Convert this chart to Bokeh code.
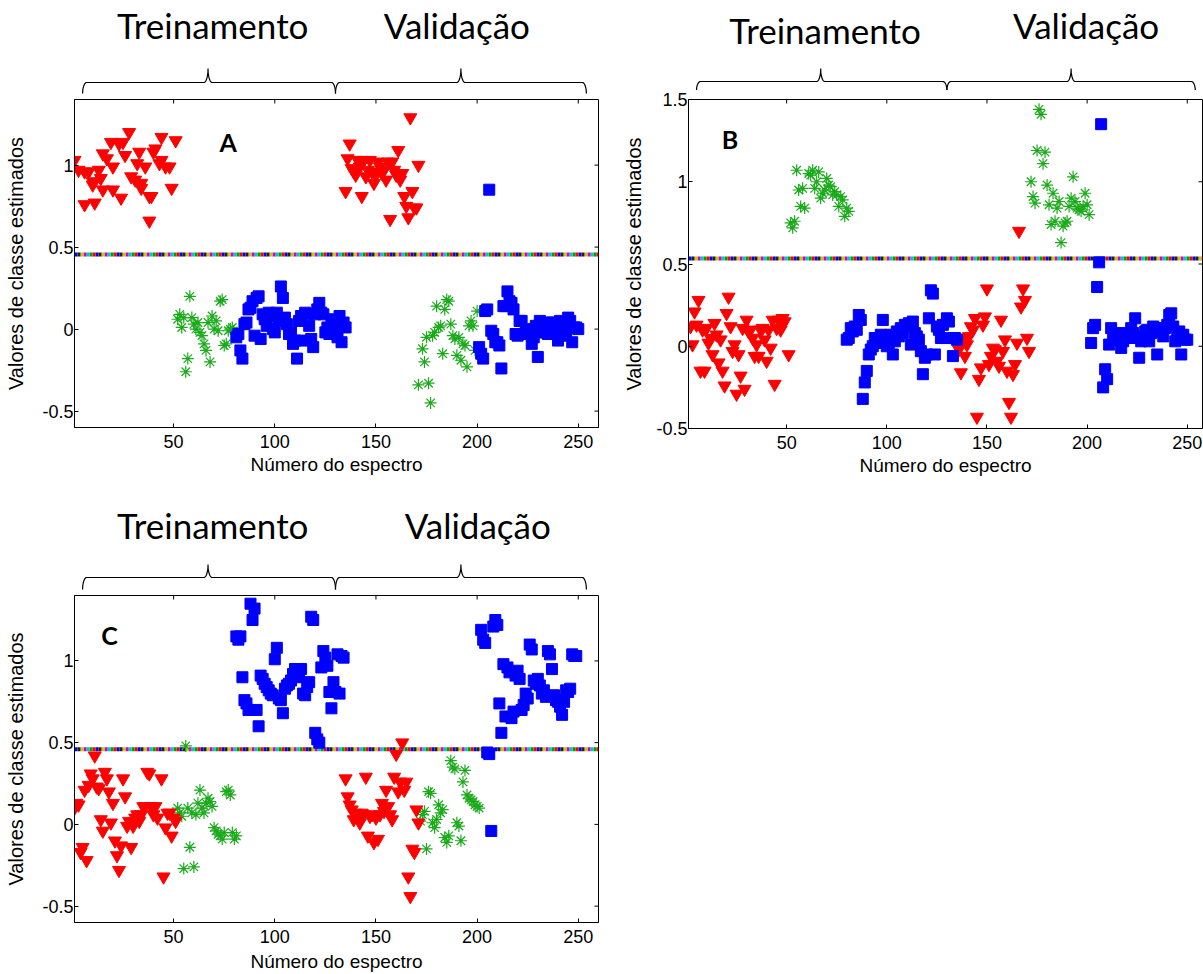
import numpy as np
from bokeh.plotting import figure
from bokeh.models import Range1d, FixedTicker, Span, Label
from bokeh.layouts import column, row
from bokeh.embed import file_html
from bokeh.resources import INLINE
from bokeh.core.properties import value

# ---------------- data ----------------
x_ticks = [50, 100, 150, 200, 250]
y_ticks_ac = [-0.5, 0, 0.5, 1]
y_ticks_b = [-0.5, 0, 0.5, 1, 1.5]
y_tick_labels = {-0.5: "-0.5", 0: "0", 0.5: "0.5", 1: "1", 1.5: "1.5"}
thresholds = [0.455, 0.533, 0.459]          # A, B, C
panel_letters = ["A", "B", "C"]
letter_x = [77, 21.7, 18.3]
letter_y = [1.14, 1.26, 1.16]
section_names = ["Treinamento", "Validação"]
brace_bounds = [5, 130, 254]
brace_peaks = [67, 192]

# Panel A
A_red_x = [1,3,6,6,8,10,10,11,13,14,15,15,17,19,20,20,23,24,25,26,28,29,31,32,33,34,34,36,38,38,39,40,41,43,44,44,46,48,49,51,
           135,136,137,138,139,140,141,142,143,144,145,146,147,148,149,150,151,152,153,154,155,156,157,158,159,160,161,162,163,164,165,166,167,168,169,170,171]
A_red_y = [1.03,0.97,0.96,0.76,0.96,0.88,0.90,0.77,0.97,0.92,0.85,1.07,1.04,1.14,0.85,0.99,1.13,0.80,1.14,1.06,1.20,0.93,0.91,1.01,1.08,0.86,0.89,0.99,0.81,0.66,0.81,1.08,1.10,1.01,1.17,1.03,0.99,0.99,0.86,1.15,
           0.84,1.04,1.13,0.98,0.96,0.94,1.03,0.99,0.81,1.03,0.93,0.97,1.03,0.96,0.89,0.94,1.02,0.99,0.95,0.97,0.91,1.02,0.67,1.02,0.97,0.94,1.09,0.91,0.95,0.81,0.75,0.68,1.29,0.84,0.74,0.74,1.00]
A_green_x = [52,53,54,55,56,57,58,59,60,61,62,63,64,65,66,67,68,69,70,71,72,73,74,75,76,77,78,79,
             171,173,174,175,176,177,178,179,180,181,182,183,184,185,186,187,188,189,190,191,192,193,194,195,196,197,198,199,200]
A_green_y = [0.06,0.09,0.01,0.07,-0.26,-0.18,0.20,0.07,0.03,0.0,0.04,-0.02,-0.04,-0.09,-0.13,0.04,-0.20,0.08,0.0,0.05,-0.01,0.17,0.18,-0.10,-0.09,-0.01,0.0,0.01,
             -0.34,-0.12,-0.20,-0.05,-0.33,-0.45,-0.04,-0.02,0.14,0.01,0.02,-0.15,0.12,0.18,0.17,0.03,-0.04,-0.06,-0.16,-0.05,-0.19,-0.09,-0.10,-0.23,0.02,0.05,0.02,-0.13,0.11]
A_blue_x = [81,82,83,84,85,86,87,88,89,90,91,92,93,94,95,96,97,98,99,100,101,102,103,104,105,106,107,108,109,110,
            111,112,113,114,115,116,117,118,119,120,121,122,123,124,125,126,127,128,129,130,131,132,133,134,135,
            201,202,203,204,205,206,207,208,209,210,211,212,213,214,215,216,217,218,219,220,221,222,223,224,225,
            226,227,228,229,230,231,232,233,234,235,236,237,238,239,240,241,242,243,244,245,246,247,248,249,250]
A_blue_y = [-0.05,-0.03,-0.13,-0.18,0.03,0.04,0.12,0.13,0.17,-0.04,0.19,0.20,-0.06,0.09,0.06,0.02,0.10,0.08,0.0,-0.02,
            0.10,0.05,0.26,0.19,0.07,0.03,-0.03,-0.02,-0.09,-0.07,-0.18,0.05,0.08,-0.07,0.10,0.09,0.02,-0.06,-0.11,0.09,
            0.12,0.16,0.10,0.09,-0.02,0.01,-0.03,0.04,0.06,0.0,-0.05,0.08,-0.08,0.04,0.01,
            -0.11,-0.15,-0.18,0.11,0.12,0.85,-0.01,-0.03,-0.08,-0.08,-0.10,-0.24,0.14,0.14,0.23,0.17,0.16,0.12,-0.03,-0.04,
            0.05,0.05,-0.03,-0.02,-0.02,0.0,-0.09,-0.05,0.02,-0.17,0.05,-0.02,0.0,-0.02,-0.03,0.04,0.04,-0.03,0.02,-0.07,
            0.05,0.02,0.0,-0.04,0.07,0.05,-0.08,0.01,0.01,0.0]

# Panel B
B_red_x = [2,3,4,5,6,7,8,9,10,11,12,13,14,15,16,17,18,19,20,21,22,23,24,25,26,27,28,29,30,31,32,33,34,35,36,37,38,39,40,41,42,43,44,45,46,47,48,49,51,
           136,137,138,139,140,141,142,143,144,145,146,147,148,149,150,151,152,153,154,155,156,157,158,159,160,161,162,163,164,165,166,167,168,169,170,171]
B_red_y = [0.12,0.01,0.21,0.13,0.28,-0.15,0.10,-0.15,0.11,0.02,0.05,-0.05,0.14,0.07,-0.10,0.04,-0.15,-0.24,0.20,0.30,0.12,-0.03,0.01,-0.29,-0.05,-0.18,0.11,-0.26,0.16,0.09,
           0.10,0.05,-0.06,0.01,-0.06,0.10,0.11,0.04,-0.09,0.10,-0.01,0.16,-0.23,0.11,0.16,0.10,0.17,0.15,-0.05,
           -0.02,-0.16,0.05,-0.06,0.01,0.06,0.12,0.10,0.17,-0.43,-0.20,-0.13,0.13,0.18,0.35,-0.11,-0.06,-0.01,-0.02,-0.09,
           -0.12,0.16,-0.03,0.04,-0.15,-0.34,-0.43,-0.17,-0.11,0.02,0.70,0.24,0.35,0.28,0.05,-0.03]
B_green_x = [52,53,54,55,56,57,58,59,61,62,63,64,65,66,67,68,69,70,71,72,73,74,75,76,77,78,79,80,81,
             172,173,174,175,176,177,178,179,180,181,182,183,184,185,186,187,188,189,190,191,192,193,194,195,196,197,198,199,200,201]
B_green_y = [0.75,0.72,0.76,1.07,0.95,0.85,0.96,0.84,1.05,1.04,1.07,0.96,1.00,1.06,0.90,0.93,0.95,1.02,0.98,0.97,0.92,0.94,0.92,0.85,0.91,0.89,0.79,0.84,0.82,
             1.00,0.91,0.87,1.19,1.44,1.41,1.11,1.18,0.98,0.86,0.74,0.93,0.76,0.84,0.88,0.63,0.73,0.75,0.76,0.85,0.90,1.03,0.88,0.84,0.83,0.82,0.85,0.93,0.86,0.80]
B_blue_x = [80,81,82,83,84,85,86,87,88,89,90,91,92,93,94,95,96,97,98,99,100,101,102,103,104,105,106,107,108,109,110,
            111,112,113,114,115,116,117,118,119,120,121,122,123,124,125,126,127,128,129,130,131,132,133,134,135,
            202,203,204,205,206,207,208,209,210,211,212,213,214,215,216,217,218,219,220,221,222,223,224,225,226,
            227,228,229,230,231,232,233,234,235,236,237,238,239,240,241,242,243,244,245,246,247,248,249,250]
B_blue_y = [0.04,0.05,0.11,0.09,0.12,0.10,0.19,0.16,-0.32,-0.22,-0.15,-0.05,-0.02,0.0,0.05,0.02,0.04,0.07,0.16,0.06,
            0.0,0.02,0.07,-0.05,0.03,0.09,0.06,0.11,0.08,0.13,0.12,0.14,0.01,0.15,0.08,0.06,0.04,-0.03,-0.17,-0.07,
            -0.05,0.17,0.34,0.32,-0.05,0.12,0.10,0.05,0.13,0.05,0.17,0.15,0.05,-0.06,0.05,0.04,
            0.02,0.11,0.13,0.36,0.51,1.35,-0.25,-0.14,-0.20,0.01,0.11,0.06,0.08,0.04,0.06,-0.01,0.03,0.08,0.05,0.07,
            0.11,0.08,0.17,0.05,-0.07,0.03,0.06,0.09,0.10,0.03,0.08,0.12,0.11,-0.05,0.09,0.10,0.06,0.11,0.13,0.19,
            0.20,0.12,0.03,0.08,0.09,-0.05,0.07,0.04,0.04]

# Panel C
C_red_x = [1,2,3,4,5,6,7,8,9,10,11,12,13,14,15,16,17,18,19,20,21,22,23,24,25,26,27,28,29,30,31,32,33,34,35,36,37,38,39,40,41,42,44,45,46,47,48,49,50,51,
           135,136,137,138,139,140,141,142,143,144,145,146,147,148,149,150,151,152,153,154,155,156,157,158,159,160,161,162,163,164,165,166,167,168,169,170,171]
C_red_y = [0.10,0.13,0.12,-0.17,-0.14,0.21,-0.22,0.24,0.31,0.28,0.42,0.23,0.22,0.03,-0.04,0.32,0.28,0.20,0.01,0.13,
           -0.10,-0.19,-0.28,-0.13,0.28,0.17,-0.01,0.02,-0.14,-0.01,0.04,0.06,0.02,0.06,0.11,0.11,0.32,0.31,0.11,0.06,
           0.11,0.04,0.28,-0.32,-0.02,0.07,0.07,-0.07,0.04,0.02,
           0.28,0.17,0.12,0.09,0.03,0.07,0.05,0.01,0.07,0.06,0.29,-0.07,0.05,0.06,-0.11,0.04,-0.09,0.06,0.13,0.08,
           0.21,0.11,0.06,0.03,0.29,0.43,0.20,0.26,0.50,0.21,0.26,-0.32,-0.44,-0.15,-0.17,0.09,0.01]
C_green_x = [52,53,54,55,56,57,58,59,60,61,62,63,64,65,66,67,68,69,70,71,72,73,74,75,76,77,78,79,80,81,
             172,173,174,175,176,177,178,179,180,181,182,183,184,185,186,187,188,189,190,191,192,193,194,195,196,197,198,199,200,201]
C_green_y = [0.10,0.07,0.05,-0.27,0.48,0.10,-0.14,0.07,-0.26,0.06,0.13,0.21,0.10,0.07,0.13,0.16,0.14,0.11,-0.02,-0.04,
             -0.06,-0.07,-0.09,-0.05,0.20,0.21,0.18,-0.05,-0.09,-0.07,
             0.02,0.06,0.08,-0.15,0.20,0.19,0.01,-0.02,0.03,0.12,0.07,0.09,-0.08,-0.11,-0.07,0.39,0.35,0.34,0.01,-0.01,
             -0.10,0.26,0.33,0.18,0.16,0.15,0.14,0.12,0.11,0.10]
C_blue_x = [81,82,83,84,85,86,87,88,89,90,91,92,93,94,95,96,97,98,99,100,101,102,103,104,105,106,107,108,109,110,
            111,112,113,114,115,116,117,118,119,120,121,122,123,124,125,126,127,128,129,130,131,132,133,134,
            202,203,204,205,206,207,208,209,210,211,212,213,214,215,216,217,218,219,220,221,222,223,224,225,
            226,227,228,229,230,231,232,233,234,235,236,237,238,239,240,241,242,243,244,245,246,247,248,249]
C_blue_y = [1.15,1.13,1.15,0.90,0.76,0.74,0.70,1.35,1.25,1.32,0.70,0.60,0.91,0.89,0.86,0.84,0.82,0.80,0.79,1.01,
            1.08,0.77,0.76,0.68,0.83,0.85,0.86,0.88,0.92,0.95,0.95,0.90,0.95,0.80,0.79,0.84,0.87,1.27,1.25,0.56,
            0.52,0.50,0.96,1.06,1.02,0.97,0.81,0.71,0.87,0.81,1.04,0.80,1.03,1.02,
            1.19,1.13,1.11,0.44,0.43,-0.04,1.21,1.25,1.22,0.74,0.56,0.98,0.66,0.96,0.93,0.65,0.69,0.91,0.94,0.89,
            0.70,0.73,0.80,0.77,1.10,1.07,0.88,0.86,0.89,0.85,0.80,0.82,0.78,1.06,1.04,0.95,0.79,0.76,0.75,0.72,
            0.67,0.75,0.82,0.81,0.83,1.04,1.03,1.03]

# ---------------- styling ----------------
RED = "#ff0000"
BLUE = "#0000ff"
GREEN = "#1aaa1a"
THR_COLORS = ["#0000ff", "#ff0000", "#00a000", "#00c8c8", "#d000d0", "#c8c800", "#202020"]
AXIS_FONT = "Liberation Sans"
HEAD_FONT = "Lato"
TICK_LEN = 4  # px


def make_plot(width, height, ml, mr, mt, mb, frame_w, frame_h, xr, yr, yticks, reds, greens, blues, thr,
              letter, lx, ly, tick_standoff, xlabel_standoff, ylabel_standoff):
    p = figure(width=width, height=height, x_range=xr, y_range=yr,
               output_backend="svg", toolbar_location=None,
               min_border_left=ml, min_border_right=mr, min_border_top=mt, min_border_bottom=mb,
               x_axis_label="Número do espectro", y_axis_label="Valores de classe estimados")
    p.grid.visible = False
    p.outline_line_color = "black"
    p.outline_line_width = 1
    p.background_fill_color = "white"
    p.border_fill_color = "white"

    for ax in (p.xaxis[0], p.yaxis[0]):
        ax.major_tick_in = TICK_LEN
        ax.major_tick_out = 0
        ax.minor_tick_in = 0
        ax.minor_tick_out = 0
        ax.axis_line_color = "black"
        ax.major_tick_line_color = "black"
        ax.major_label_text_font = AXIS_FONT
        ax.major_label_text_font_size = "18px"
        ax.major_label_text_color = "black"
        ax.axis_label_text_font = AXIS_FONT
        ax.axis_label_text_font_style = "normal"
        ax.axis_label_text_color = "black"
    p.xaxis[0].ticker = FixedTicker(ticks=x_ticks)
    p.yaxis[0].ticker = FixedTicker(ticks=yticks)
    p.yaxis[0].major_label_overrides = {k: v for k, v in y_tick_labels.items() if k in yticks}
    p.xaxis[0].axis_label_text_font_size = "19px"
    p.yaxis[0].axis_label_text_font_size = "20px"
    p.xaxis[0].major_label_standoff = tick_standoff
    p.yaxis[0].major_label_standoff = 1
    p.xaxis[0].axis_label_standoff = xlabel_standoff
    p.yaxis[0].axis_label_standoff = ylabel_standoff

    # inward box ticks on the top and right edges
    dy = TICK_LEN * (yr.end - yr.start) / frame_h
    dx = TICK_LEN * (xr.end - xr.start) / frame_w
    p.segment(x0=x_ticks, y0=[yr.end] * len(x_ticks), x1=x_ticks, y1=[yr.end - dy] * len(x_ticks),
              line_color="black", line_width=1)
    p.segment(x0=[xr.end] * len(yticks), y0=yticks, x1=[xr.end - dx] * len(yticks), y1=yticks,
              line_color="black", line_width=1)

    for i, c in enumerate(THR_COLORS):
        p.add_layout(Span(location=thr, dimension="width", line_color=c, line_width=4,
                          line_dash="3 18", line_dash_offset=i * 3, level="underlay"))

    p.scatter(greens[0], greens[1], marker="asterisk", size=12, line_color=GREEN, line_width=1.2)
    p.scatter(reds[0], reds[1], marker="inverted_triangle", size=13, fill_color=RED, line_color=RED)
    p.scatter(blues[0], blues[1], marker="square", size=11, fill_color=BLUE, line_color=BLUE)

    p.add_layout(Label(x=lx, y=ly, text=letter, text_font=HEAD_FONT, text_font_style="bold",
                       text_font_size="25px", text_align="center", text_baseline="middle",
                       text_color="black"))
    return p


def make_header(width, height, ml, mr, xr, text_x, text_base, brace_ys):
    h = figure(width=width, height=height, x_range=xr, y_range=Range1d(0, height),
               output_backend="svg", toolbar_location=None,
               x_axis_location=None, y_axis_location=None,
               min_border_left=ml, min_border_right=mr, min_border_top=0, min_border_bottom=0)
    h.grid.visible = False
    h.outline_line_color = None
    h.background_fill_color = "white"
    h.border_fill_color = "white"
    h.text(x=text_x, y=text_base, text=section_names, text_font=value(HEAD_FONT),
           text_font_size="35px", text_align="center", text_baseline="alphabetic",
           text_color="black")

    y_end, y_line, y_top = brace_ys
    rx = 2.0
    t = np.linspace(0, np.pi / 2, 12)
    for k in range(2):
        xa, xb, xp = brace_bounds[k], brace_bounds[k + 1], brace_peaks[k]
        bx, by = [], []
        bx += list(xa + rx - rx * np.cos(t)); by += list(y_end + (y_line - y_end) * np.sin(t))
        bx += list(xp - rx + rx * np.sin(t)); by += list(y_line + (y_top - y_line) * (1 - np.cos(t)))
        bx += list(xp + rx - rx * np.cos(t)); by += list(y_top - (y_top - y_line) * np.sin(t))
        bx += list(xb - rx + rx * np.sin(t)); by += list(y_line - (y_line - y_end) * (1 - np.cos(t)))
        h.line(bx, by, line_color="black", line_width=1.2)
    return h


xr_a = Range1d(1, 260)
xr_b = Range1d(1, 257.6)
xr_c = Range1d(1, 260)

pA = make_plot(620, 392, 74, 22, 2, 62, 524, 328, xr_a, Range1d(-0.6, 1.4), y_ticks_ac,
               (A_red_x, A_red_y), (A_green_x, A_green_y), (A_blue_x, A_blue_y),
               thresholds[0], panel_letters[0], letter_x[0], letter_y[0], 7, 3, 12)
pB = make_plot(583, 399, 65, 1, 9, 61, 517, 329, xr_b, Range1d(-0.5, 1.5), y_ticks_b,
               (B_red_x, B_red_y), (B_green_x, B_green_y), (B_blue_x, B_blue_y),
               thresholds[1], panel_letters[1], letter_x[1], letter_y[1], 7, 3, 8)
pC = make_plot(620, 381, 74, 22, 2, 52, 524, 327, xr_c, Range1d(-0.6, 1.4), y_ticks_ac,
               (C_red_x, C_red_y), (C_green_x, C_green_y), (C_blue_x, C_blue_y),
               thresholds[2], panel_letters[2], letter_x[2], letter_y[2], 7, 5, 12)

hA = make_header(620, 97, 74, 22, xr_a, [69.3, 190], [73, 73], (4, 15, 29))
hB = make_header(583, 90, 65, 1, xr_b, [69.2, 199.5], [61, 66], (0, 9, 22))
hC = make_header(620, 104, 74, 22, xr_c, [69.3, 200.3], [69, 69], (4, 16, 29))

layout = column(row(column(hA, pA), column(hB, pB)), column(hC, pC))

with open("out.html", "w") as f:
    f.write(file_html(layout, INLINE))
